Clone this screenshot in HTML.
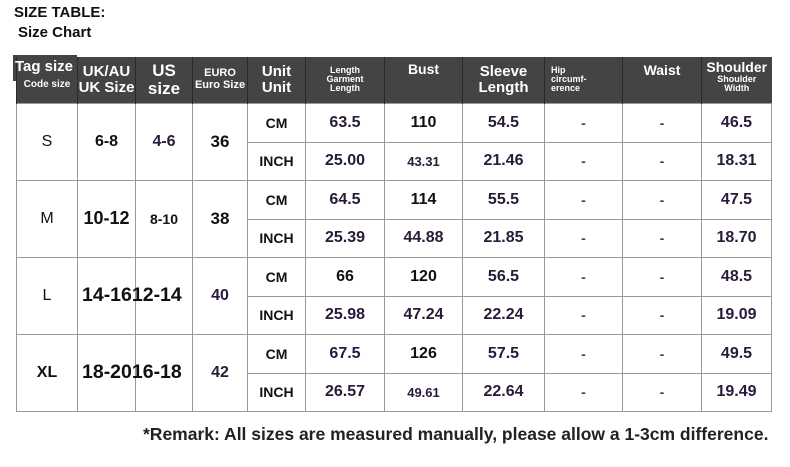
<html><head><style>
body{margin:0;width:790px;height:467px;background:#fff;font-family:"Liberation Sans",sans-serif;position:relative;overflow:hidden}
.t{position:absolute;font-weight:bold;color:#111}
table{position:absolute;left:16px;top:57px;width:755px;border-collapse:collapse;table-layout:fixed}
td{border:1px solid #999;text-align:center;font-weight:bold;padding:0;color:#2a1a3a;font-size:16px;white-space:nowrap;overflow:visible}
th{background:#444;color:#fff;border-left:1px solid #2a2a2a;font-weight:bold;padding:0;line-height:1.05;height:46px;white-space:nowrap;overflow:visible}
td.b{color:#111;font-size:16px}
td.d{color:#444;font-size:14px}
td.o{text-align:left;padding-left:4px;font-size:19.5px;color:#111}
</style></head><body>
<div class="t" style="left:14px;top:4px;font-size:15px">SIZE TABLE:</div>
<div class="t" style="left:18px;top:24px;font-size:15px">Size Chart</div>
<div style="position:absolute;left:13px;top:55px;width:64px;height:26px;background:#444"></div>
<table>
<colgroup><col style="width:61px"><col style="width:58px"><col style="width:57px"><col style="width:55px"><col style="width:58px"><col style="width:79px"><col style="width:78px"><col style="width:82px"><col style="width:78px"><col style="width:79px"><col style="width:70px"></colgroup>
<tr><th><span style="font-size:15px;position:relative;top:-8px;left:-3px">Tag size</span><br><span style="font-size:10px;position:relative;top:-2px">Code size</span></th><th style="font-size:15px">UK/AU<br>UK Size</th><th style="font-size:17px">US<br>size</th><th style="font-size:11px">EURO<br>Euro Size</th><th style="font-size:15px">Unit<br>Unit</th><th style="font-size:9px">Length<br>Garment<br>Length</th><th style="font-size:14px;vertical-align:top;padding-top:5px">Bust</th><th style="font-size:15px">Sleeve<br>Length</th><th style="font-size:9px;text-align:left;padding-left:6px">Hip<br>circumf-<br>erence</th><th style="font-size:14px;vertical-align:top;padding-top:6px">Waist</th><th style="font-size:14px;vertical-align:top;padding-top:3px">Shoulder<br><span style="font-size:9px">Shoulder<br>Width</span></th></tr>
<tr style="height:39px"><td rowspan="2" class="b" style="font-weight:normal">S</td><td rowspan="2" class="b">6-8</td><td rowspan="2">4-6</td><td rowspan="2" class="b" style="font-size:17px">36</td><td class="b" style="font-size:14px">CM</td><td>63.5</td><td class="b">110</td><td>54.5</td><td class="d">-</td><td class="d">-</td><td>46.5</td></tr>
<tr style="height:38px"><td class="b" style="font-size:14px">INCH</td><td>25.00</td><td style="font-size:13px">43.31</td><td>21.46</td><td class="d">-</td><td class="d">-</td><td>18.31</td></tr>
<tr style="height:39px"><td rowspan="2" class="b" style="font-weight:normal">M</td><td rowspan="2" class="b" style="font-size:18px">10-12</td><td rowspan="2" class="b" style="font-size:14px">8-10</td><td rowspan="2" class="b" style="font-size:17px">38</td><td class="b" style="font-size:14px">CM</td><td>64.5</td><td class="b">114</td><td>55.5</td><td class="d">-</td><td class="d">-</td><td>47.5</td></tr>
<tr style="height:38px"><td class="b" style="font-size:14px">INCH</td><td>25.39</td><td>44.88</td><td>21.85</td><td class="d">-</td><td class="d">-</td><td>18.70</td></tr>
<tr style="height:39px"><td rowspan="2" class="b" style="font-weight:normal">L</td><td rowspan="2" class="o">14-1612-14</td><td rowspan="2"></td><td rowspan="2">40</td><td class="b" style="font-size:14px">CM</td><td class="b">66</td><td class="b">120</td><td>56.5</td><td class="d">-</td><td class="d">-</td><td>48.5</td></tr>
<tr style="height:38px"><td class="b" style="font-size:14px">INCH</td><td>25.98</td><td>47.24</td><td>22.24</td><td class="d">-</td><td class="d">-</td><td>19.09</td></tr>
<tr style="height:39px"><td rowspan="2" class="b">XL</td><td rowspan="2" class="o">18-2016-18</td><td rowspan="2"></td><td rowspan="2">42</td><td class="b" style="font-size:14px">CM</td><td>67.5</td><td class="b">126</td><td>57.5</td><td class="d">-</td><td class="d">-</td><td>49.5</td></tr>
<tr style="height:38px"><td class="b" style="font-size:14px">INCH</td><td>26.57</td><td style="font-size:13px">49.61</td><td>22.64</td><td class="d">-</td><td class="d">-</td><td>19.49</td></tr>
</table>
<div class="t" style="left:143px;top:424px;font-size:17.5px;color:#222;white-space:nowrap">*Remark: All sizes are measured manually, please allow a 1-3cm difference.</div>
</body></html>
